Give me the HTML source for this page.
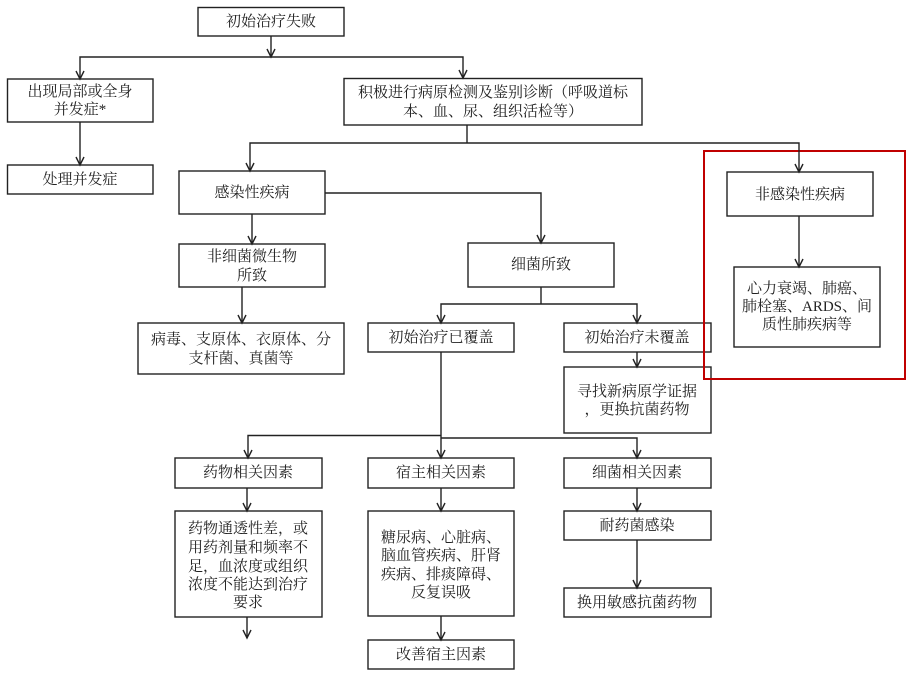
<!DOCTYPE html>
<html><head><meta charset="utf-8"><style>
html,body{margin:0;padding:0;background:#fff;}
svg{display:block;}
text{font-family:"Liberation Serif","Noto Serif CJK SC",serif;font-size:15px;fill:#222;text-anchor:middle;dominant-baseline:central;}
</style></head><body>
<svg width="917" height="675" viewBox="0 0 917 675" xmlns="http://www.w3.org/2000/svg">
<g fill="#fff" stroke="#222" stroke-width="1.4">
<rect x="198" y="7.5" width="146" height="28.5"/>
<rect x="7.5" y="79" width="145.5" height="43"/>
<rect x="7.5" y="165" width="145.5" height="29"/>
<rect x="344" y="78.5" width="298" height="46.5"/>
<rect x="179" y="171" width="146" height="43"/>
<rect x="179" y="244" width="146" height="43"/>
<rect x="138" y="323" width="206" height="51"/>
<rect x="468" y="243" width="146" height="44"/>
<rect x="368" y="323" width="146" height="29"/>
<rect x="564" y="323" width="147" height="29"/>
<rect x="564" y="367" width="147" height="66"/>
<rect x="727" y="172" width="146" height="44"/>
<rect x="734" y="267" width="146" height="80"/>
<rect x="175" y="458" width="147" height="30"/>
<rect x="175" y="511" width="147" height="106"/>
<rect x="368" y="458" width="146" height="30"/>
<rect x="368" y="511" width="146" height="105"/>
<rect x="368" y="640" width="146" height="29"/>
<rect x="564" y="458" width="147" height="30"/>
<rect x="564" y="511" width="147" height="29"/>
<rect x="564" y="588" width="147" height="29"/>
</g>
<rect x="704" y="151" width="201" height="228" fill="none" stroke="#c00000" stroke-width="2"/>
<g fill="none" stroke="#222" stroke-width="1.4">
<path d="M271 36V57M80 78V57H463V78M80 122V165M467 125V143M250 170V143H799V171M252 214V243M325 193H541V242M242 287V322M541 287V304M441 322V304H637V322M637 352V366M441 352V457M248 457V435.5H441M441 438H637V457M247 488V510M247 617V638M441 488V510M441 616V639M637 488V510M637 540V587M799 216V266"/>
<path d="M267 49L271 57L275 49M76 71L80 79L84 71M459 70L463 78L467 70M76 157L80 165L84 157M246 163L250 171L254 163M795 164L799 172L803 164M248 236L252 244L256 236M537 235L541 243L545 235M238 315L242 323L246 315M437 315L441 323L445 315M633 315L637 323L641 315M633 359L637 367L641 359M437 450L441 458L445 450M244 450L248 458L252 450M633 450L637 458L641 450M243 503L247 511L251 503M243 630L247 638L251 630M437 503L441 511L445 503M437 632L441 640L445 632M633 503L637 511L641 503M633 580L637 588L641 580M795 259L799 267L803 259"/>
</g>
<text x="271" y="22">初始治疗失败</text>
<text x="80" y="92">出现局部或全身</text>
<text x="80" y="110">并发症*</text>
<text x="80" y="180">处理并发症</text>
<text x="493" y="93">积极进行病原检测及鉴别诊断（呼吸道标</text>
<text x="493" y="112">本、血、尿、组织活检等）</text>
<text x="252" y="193">感染性疾病</text>
<text x="252" y="257">非细菌微生物</text>
<text x="252" y="276">所致</text>
<text x="241" y="340">病毒、支原体、衣原体、分</text>
<text x="241" y="359">支杆菌、真菌等</text>
<text x="541" y="265">细菌所致</text>
<text x="441" y="338">初始治疗已覆盖</text>
<text x="637" y="338">初始治疗未覆盖</text>
<text x="637" y="392">寻找新病原学证据</text>
<text x="637" y="410">，更换抗菌药物</text>
<text x="800" y="195">非感染性疾病</text>
<text x="807" y="289">心力衰竭、肺癌、</text>
<text x="807" y="307">肺栓塞、ARDS、间</text>
<text x="807" y="325">质性肺疾病等</text>
<text x="248" y="473">药物相关因素</text>
<text x="248" y="529">药物通透性差，或</text>
<text x="248" y="548">用药剂量和频率不</text>
<text x="248" y="567">足，血浓度或组织</text>
<text x="248" y="585">浓度不能达到治疗</text>
<text x="248" y="603">要求</text>
<text x="441" y="473">宿主相关因素</text>
<text x="441" y="538">糖尿病、心脏病、</text>
<text x="441" y="556">脑血管疾病、肝肾</text>
<text x="441" y="575">疾病、排痰障碍、</text>
<text x="441" y="593">反复误吸</text>
<text x="441" y="655">改善宿主因素</text>
<text x="637" y="473">细菌相关因素</text>
<text x="637" y="526">耐药菌感染</text>
<text x="637" y="603">换用敏感抗菌药物</text>
</svg>
</body></html>
